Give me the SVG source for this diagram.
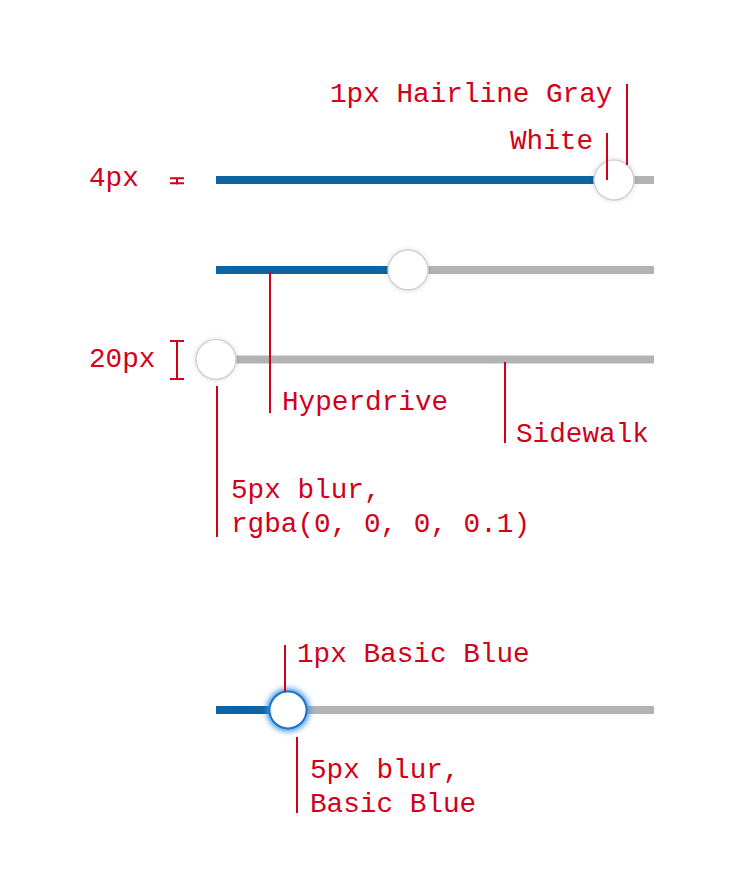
<svg xmlns="http://www.w3.org/2000/svg" width="740" height="892" viewBox="0 0 740 892">
<style>
.lbl{font-family:"Liberation Mono","Courier New",monospace;font-size:27.7px;fill:#d0021b}
.lead{stroke:#d0021b;stroke-width:2;fill:none}
.blue{fill:#0e63a3}
.gray{fill:#b3b3b3}
.knob{fill:#fff;stroke:#d2d2d2;stroke-width:1.5}
.knobA{fill:#fff;stroke:#1a76cc;stroke-width:2}
</style>
<defs>
<filter id="sh" x="-50%" y="-50%" width="200%" height="200%">
<feDropShadow dx="0" dy="0" stdDeviation="2.5" flood-color="#000" flood-opacity="0.14"/>
</filter>
<filter id="glow" x="-50%" y="-50%" width="200%" height="200%">
<feGaussianBlur in="SourceAlpha" stdDeviation="3.5" result="b"/>
<feFlood flood-color="#3d8fe0" flood-opacity="1"/>
<feComposite in2="b" operator="in" result="g"/>
<feMerge><feMergeNode in="g"/><feMergeNode in="g"/><feMergeNode in="SourceGraphic"/></feMerge>
</filter>
</defs>
<rect width="740" height="892" fill="#fff"/>
<g id="slider-1">
<rect class="blue" x="216" y="176" width="398" height="8"/>
<rect class="gray" x="614" y="176" width="40" height="8"/>
<circle class="knob" cx="614" cy="180" r="20" filter="url(#sh)"/>
</g>
<g id="slider-2">
<rect class="blue" x="216" y="266" width="192" height="8"/>
<rect class="gray" x="408" y="266" width="246" height="8"/>
<circle class="knob" cx="408" cy="270" r="20" filter="url(#sh)"/>
</g>
<g id="slider-3">
<rect class="gray" x="216" y="355.5" width="438" height="8"/>
<circle class="knob" cx="216" cy="359.5" r="20" filter="url(#sh)"/>
</g>
<g id="slider-4">
<rect class="blue" x="216" y="706" width="72" height="8"/>
<rect class="gray" x="288" y="706" width="366" height="8"/>
<circle class="knobA" cx="288" cy="710" r="18.5" filter="url(#glow)"/>
</g>
<g id="dim-4px">
<path class="lead" d="M177 177.5V184.5M170 178.3H184M170 183.3H184"/>
<text class="lbl" x="89" y="186">4px</text>
</g>
<g id="dim-20px">
<path class="lead" d="M177 340V380M170 341H184M170 379H184"/>
<text class="lbl" x="89" y="367">20px</text>
</g>
<g id="connectors">
<path class="lead" d="M627 84V165"/>
<path class="lead" d="M607 133V180"/>
<path class="lead" d="M270 272V413"/>
<path class="lead" d="M505 362V443"/>
<path class="lead" d="M217 386V537"/>
<path class="lead" d="M285 645V692"/>
<path class="lead" d="M297 737V813"/>
</g>
<g id="labels">
<text class="lbl" x="330" y="102">1px Hairline Gray</text>
<text class="lbl" x="510" y="149">White</text>
<text class="lbl" x="282" y="410">Hyperdrive</text>
<text class="lbl" x="516" y="442">Sidewalk</text>
<text class="lbl" x="231" y="498">5px blur,</text>
<text class="lbl" x="231" y="532">rgba(0, 0, 0, 0.1)</text>
<text class="lbl" x="297" y="662">1px Basic Blue</text>
<text class="lbl" x="310" y="778">5px blur,</text>
<text class="lbl" x="310" y="812">Basic Blue</text>
</g>
</svg>
